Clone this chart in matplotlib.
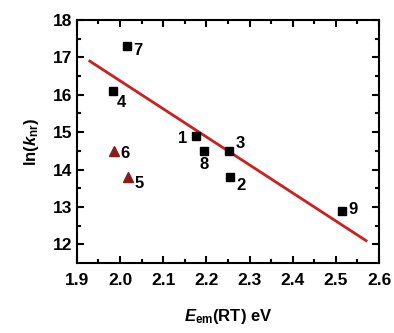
import numpy as np
import matplotlib
matplotlib.use('Agg')
import matplotlib.pyplot as plt

# data
sq_labels = ['1', '2', '3', '4', '7', '8', '9']
sq_x = [2.175, 2.255, 2.253, 1.983, 2.016, 2.195, 2.515]
sq_y = [14.9, 13.8, 14.5, 16.1, 17.3, 14.5, 12.9]

tri_labels = ['5', '6']
tri_x = [2.018, 1.986]
tri_y = [13.8, 14.5]

# linear fit ln(k) = a + b*E
fit_a = 31.375
fit_b = -7.5
fit_range = [1.93, 2.57]

plt.rcParams['font.family'] = 'Liberation Sans'
plt.rcParams['font.weight'] = 'bold'
plt.rcParams['mathtext.fontset'] = 'custom'
plt.rcParams['mathtext.rm'] = 'Liberation Sans:bold'
plt.rcParams['mathtext.it'] = 'Liberation Sans:bold:italic'
plt.rcParams['mathtext.bf'] = 'Liberation Sans:bold'

fig = plt.figure(figsize=(3.94, 3.33), dpi=100)
ax = fig.add_axes([0.195, 0.21, 0.767, 0.73])

xf = np.linspace(fit_range[0], fit_range[1], 50)
ax.plot(xf, fit_a + fit_b * xf, color='#cc1f1f', lw=2, zorder=1)

ax.plot(sq_x, sq_y, 's', color='black', ms=6, zorder=2)
ax.plot(tri_x, tri_y, '^', color='#8b1a1a', ms=6.5, zorder=2)

# label offsets (points)
offs = {'1': (-9, -2), '2': (8, -6), '3': (8, 5), '4': (6, -8), '7': (8, -3),
        '8': (0, -10), '9': (8, 1), '5': (8, -5), '6': (8, -2)}
for lab, x, y in zip(sq_labels + tri_labels, sq_x + tri_x, sq_y + tri_y):
    ax.annotate(lab, (x, y), xytext=offs[lab], textcoords='offset points',
                ha='center', va='center', fontsize=12, fontweight='bold')

ax.set_xlim(1.9, 2.6)
ax.set_ylim(11.5, 18)
ax.set_xticks(np.arange(1.9, 2.61, 0.1))
ax.set_xticks(np.arange(1.95, 2.6, 0.1), minor=True)
ax.set_yticks(np.arange(12, 18.1, 1))
ax.set_yticks(np.arange(12.5, 18, 1), minor=True)
ax.set_xticklabels(['1.9', '2.0', '2.1', '2.2', '2.3', '2.4', '2.5', '2.6'])

ax.tick_params(which='both', direction='in', top=True, right=True, width=1.5,
               labelsize=12.5)
ax.tick_params(which='major', length=5)
ax.tick_params(which='minor', length=3)
ax.tick_params(axis='x', which='major', pad=7)
for t in ax.get_xticklabels() + ax.get_yticklabels():
    t.set_fontweight('bold')

for s in ax.spines.values():
    s.set_linewidth(1.5)

ax.set_xlabel(r'$E_{\mathrm{em}}$(RT) eV', fontsize=12, fontweight='bold', labelpad=14)
ax.set_ylabel(r'ln($k_{\mathrm{nr}}$)', fontsize=12, fontweight='bold', labelpad=8)

plt.savefig('out.png', dpi=100)
